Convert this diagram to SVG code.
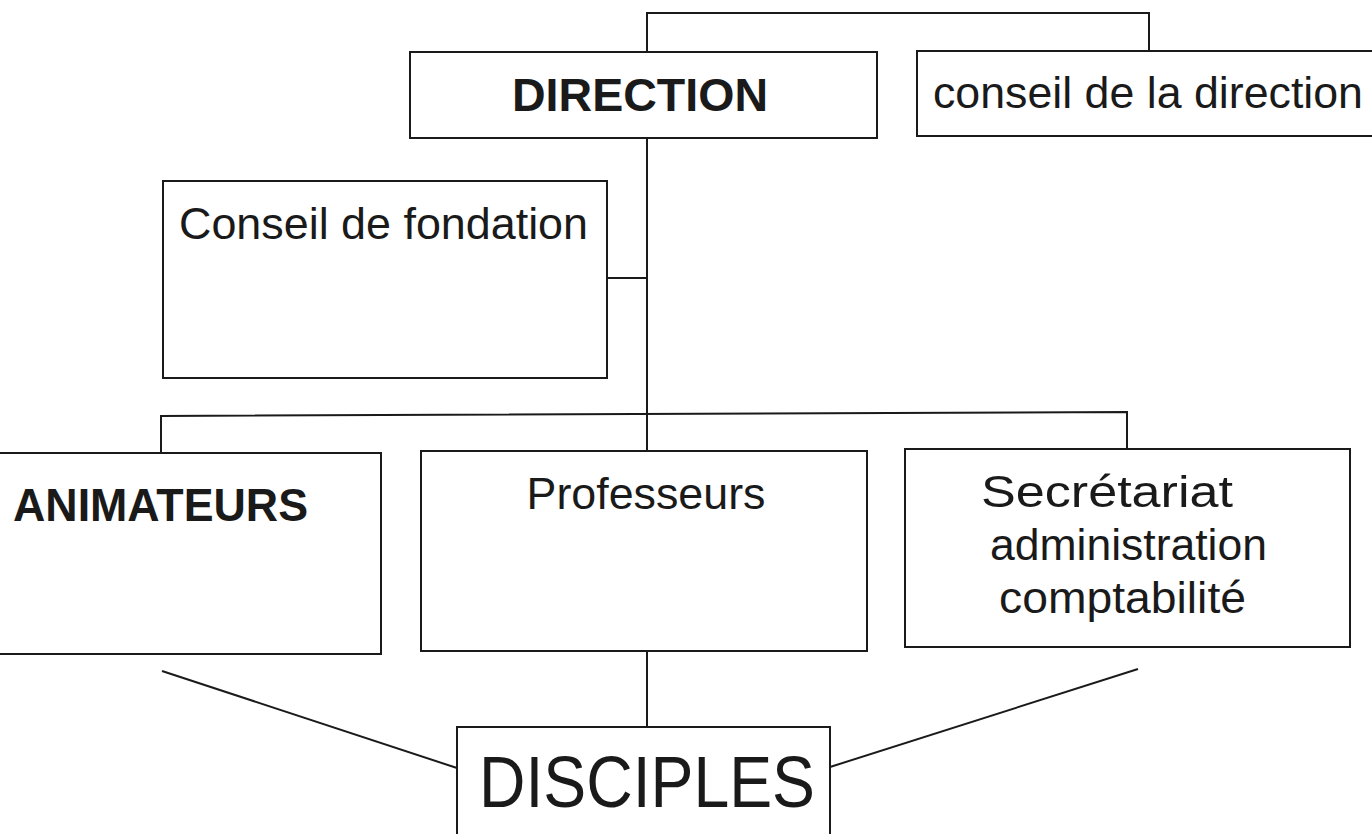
<svg xmlns="http://www.w3.org/2000/svg" width="1372" height="834" viewBox="0 0 1372 834">
<style>
.box{fill:#fff;stroke:#1a1a1a;stroke-width:2}
.ln{fill:none;stroke:#1a1a1a;stroke-width:2}
.t{font-family:"Liberation Sans",Arial,sans-serif;fill:#1a1a1a}
.n{font-size:45px}
.b{font-weight:bold;font-size:47px}
.big{font-size:72px}
.m{text-anchor:middle}
</style>
<rect width="1372" height="834" fill="#fff"/>
<g id="connectors">
<path class="ln" d="M647,52 V13 H1149 V51"/>
<path class="ln" d="M647,138 V451"/>
<path class="ln" d="M607,278 H647"/>
<path class="ln" d="M161,453 V416 L1127,412 V449"/>
<path class="ln" d="M647,651 V727"/>
<path class="ln" d="M162,671 L457,768"/>
<path class="ln" d="M830,767 L1138,669"/>
</g>
<g id="direction">
<rect class="box" x="410" y="52" width="467" height="86"/>
<text class="t b m" x="640" y="111" textLength="256" lengthAdjust="spacingAndGlyphs">DIRECTION</text>
</g>
<g id="conseil-direction">
<rect class="box" x="917" y="51" width="470" height="85"/>
<text class="t n" x="933" y="108" textLength="430" lengthAdjust="spacingAndGlyphs">conseil de la direction</text>
</g>
<g id="conseil-fondation">
<rect class="box" x="163" y="181" width="444" height="197"/>
<text class="t n" x="179" y="239" textLength="409" lengthAdjust="spacingAndGlyphs">Conseil de fondation</text>
</g>
<g id="animateurs">
<path class="box" d="M0,453 H381 V654 H0"/>
<text class="t b" x="13" y="521" textLength="295" lengthAdjust="spacingAndGlyphs">ANIMATEURS</text>
</g>
<g id="professeurs">
<rect class="box" x="421" y="451" width="446" height="200"/>
<text class="t n m" x="646" y="509" textLength="239" lengthAdjust="spacingAndGlyphs">Professeurs</text>
</g>
<g id="secretariat">
<rect class="box" x="905" y="449" width="445" height="198"/>
<text class="t n" x="981" y="507" textLength="252" lengthAdjust="spacingAndGlyphs">Secrétariat</text>
<text class="t n" x="990" y="560" textLength="277" lengthAdjust="spacingAndGlyphs">administration</text>
<text class="t n" x="999" y="613" textLength="247" lengthAdjust="spacingAndGlyphs">comptabilité</text>
</g>
<g id="disciples">
<rect class="box" x="457" y="727" width="373" height="130"/>
<text class="t big m" x="647" y="807" textLength="336" lengthAdjust="spacingAndGlyphs">DISCIPLES</text>
</g>
</svg>
